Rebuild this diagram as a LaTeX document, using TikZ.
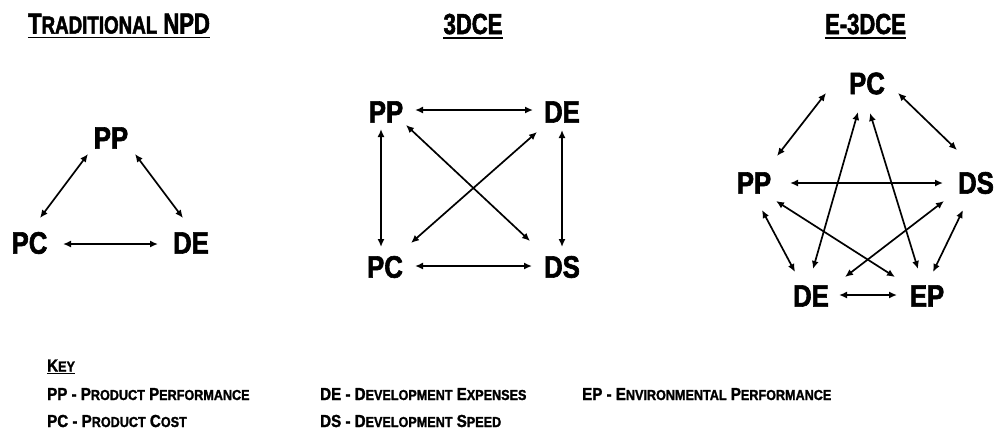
\documentclass[tikz,border=0pt]{standalone}
\usepackage{fontspec}
\usetikzlibrary{arrows.meta,calc}
\newfontfamily\labfont{Liberation Sans}[FakeStretch=0.83,FakeBold=2]
\newfontfamily\headfont{Liberation Sans}[FakeStretch=0.76,FakeBold=2]
\newfontfamily\keyfont{Liberation Sans}[FakeStretch=0.87,FakeBold=1.5]
\newcommand\hsc[1]{{\fontsize{24.7}{24.7}\selectfont #1}}
\newcommand\ksc[1]{{\fontsize{14.5}{14.5}\selectfont #1}}
\begin{document}
\begin{tikzpicture}[x=1pt,y=-1pt,
  lab/.style={inner sep=0pt,font=\labfont\bfseries\fontsize{31}{31}\selectfont},
  head/.style={inner sep=0pt,anchor=base,font=\headfont\bfseries\fontsize{29}{29}\selectfont},
  keyt/.style={inner sep=0pt,anchor=base west,font=\keyfont\bfseries\fontsize{17.4}{17.4}\selectfont},
  arr/.style={line width=1.7pt,{Latex[length=8pt,width=7pt]}-{Latex[length=8pt,width=7pt]}},
  uline/.style={line width=1.8pt}]
\useasboundingbox (0,0) rectangle (995,429);

% headings
\node[head] (h1) at (119,33.5) {T\hsc{RADITIONAL} NPD};
\node[head] (h2) at (473,34) {3DCE};
\node[head] (h3) at (865.5,34) {E-3DCE};
\foreach \h in {h1,h2,h3}
  \draw[uline] ([yshift=-3.5pt]\h.south west) -- ([yshift=-3.5pt]\h.south east);

% Traditional NPD
\node[lab] (tPP) at (111,138) {PP};
\node[lab] (tPC) at (29.5,243) {PC};
\node[lab] (tDE) at (191,243) {DE};
\draw[arr] ($(tPP)+(-23,16)$) -- ($(tPC)+(10.5,-25)$);
\draw[arr] ($(tPP)+(24,16)$) -- ($(tDE)+(-8,-25)$);
\draw[arr] ($(tPC)+(33.5,1)$) -- ($(tDE)+(-33,1)$);

% 3DCE
\node[lab] (cPP) at (386,112) {PP};
\node[lab] (cDE) at (562,112) {DE};
\node[lab] (cPC) at (385,267) {PC};
\node[lab] (cDS) at (562,267) {DS};
\draw[arr] ($(cPP)+(29,-2)$) -- ($(cDE)+(-29,-2)$);
\draw[arr] ($(cPC)+(30,-1)$) -- ($(cDS)+(-30,-1)$);
\draw[arr] ($(cPP)+(-5,17)$) -- ($(cPC)+(-4,-20)$);
\draw[arr] ($(cDE)+(0,18)$) -- ($(cDS)+(0,-20)$);
\draw[arr] ($(cPP)+(20,13)$) -- ($(cDS)+(-32,-26)$);
\draw[arr] ($(cDE)+(-25,20)$) -- ($(cPC)+(26,-24)$);

% E-3DCE
\node[lab] (ePC) at (867,83.5) {PC};
\node[lab] (ePP) at (754,183) {PP};
\node[lab] (eDS) at (976,183) {DS};
\node[lab] (eDE) at (811,296) {DE};
\node[lab] (eEP) at (927,296) {EP};
\draw[arr] ($(ePC)+(-41,9.5)$) -- ($(ePP)+(23,-27)$);
\draw[arr] ($(ePC)+(31,9.5)$) -- ($(eDS)+(-19,-33)$);
\draw[arr] ($(ePP)+(36,0)$) -- ($(eDS)+(-33,0)$);
\draw[arr] ($(ePC)+(-9,28.5)$) -- ($(eDE)+(2,-27)$);
\draw[arr] ($(ePC)+(3,29.5)$) -- ($(eEP)+(-9,-27)$);
\draw[arr] ($(ePP)+(22,18)$) -- ($(eEP)+(-32,-19)$);
\draw[arr] ($(eDS)+(-32,18)$) -- ($(eDE)+(34,-19)$);
\draw[arr] ($(ePP)+(8,27)$) -- ($(eDE)+(-16,-24)$);
\draw[arr] ($(eDS)+(-13,27)$) -- ($(eEP)+(6,-24)$);
\draw[arr] ($(eDE)+(28,-1)$) -- ($(eEP)+(-30,-1)$);

% key
\node[keyt] (key) at (47,371.5) {K\ksc{EY}};
\draw[line width=1.5pt] ([yshift=-2pt]key.south west) -- ([yshift=-2pt]key.south east);
\node[keyt] (k1) at (47,400) {PP - P\ksc{RODUCT} P\ksc{ERFORMANCE}};
\node[keyt] (k2) at (47,427) {PC - P\ksc{RODUCT} C\ksc{OST}};
\node[keyt] (k3) at (320,400) {DE - D\ksc{EVELOPMENT} E\ksc{XPENSES}};
\node[keyt] (k4) at (320,427) {DS - D\ksc{EVELOPMENT} S\ksc{PEED}};
\node[keyt] (k5) at (582,400) {EP - E\ksc{NVIRONMENTAL} P\ksc{ERFORMANCE}};
\end{tikzpicture}
\end{document}
